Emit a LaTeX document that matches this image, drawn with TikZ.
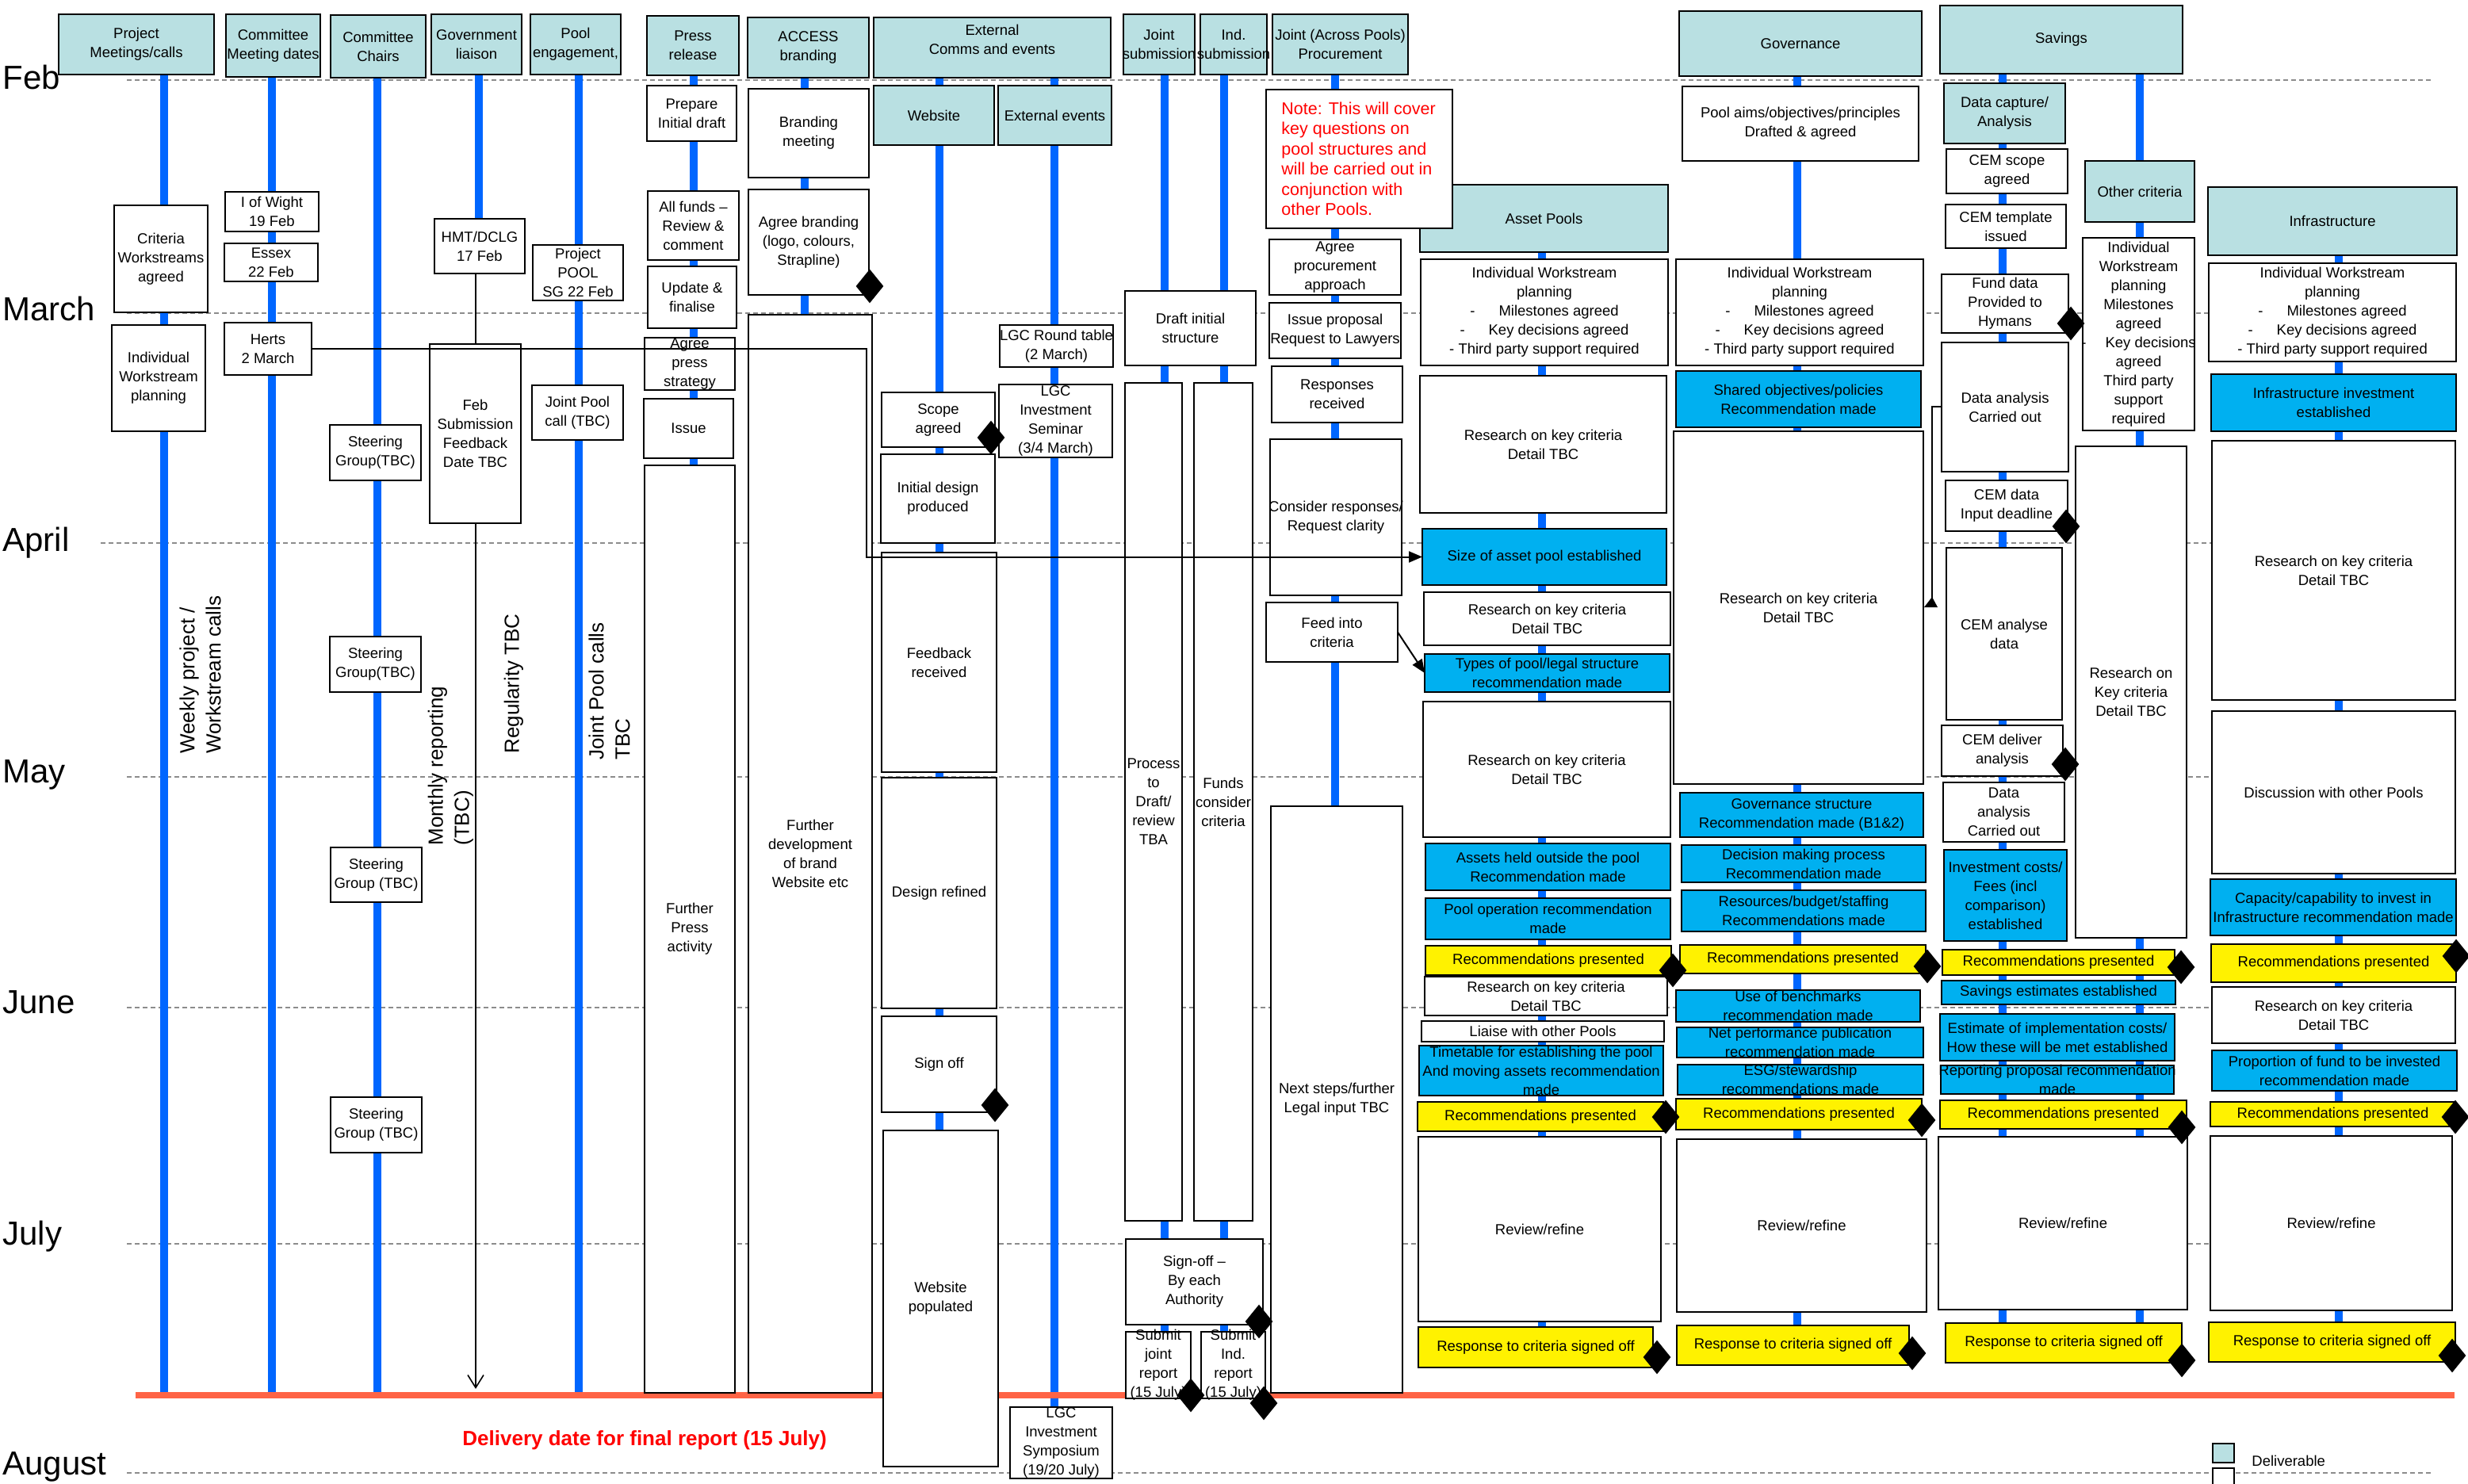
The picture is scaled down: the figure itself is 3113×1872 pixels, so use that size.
\documentclass[tikz,border=0pt]{standalone}
\usepackage{fontspec}
\setmainfont{Liberation Sans}
\usetikzlibrary{shapes.geometric,arrows.meta}
\definecolor{tealhd}{RGB}{185,224,226}
\definecolor{cyanbx}{RGB}{0,176,240}
\definecolor{lanebl}{RGB}{0,102,255}
\definecolor{orangeln}{RGB}{255,100,70}
\definecolor{dashgr}{RGB}{140,140,140}
\newcommand\bx[8][0]{%
  \node[#7, minimum width={(#5-#3)*0.5pt}, minimum height={(#6-#4)*0.5pt}] (#2) at ({(#3+#5)/2},{(#4+#6)/2}) {};
  \node[txt] (#2-t) at ({(#3+#5)/2},{(#4+#6)/2+#1}) {#8};}
\newcommand\iwptext{Individual Workstream\\planning\\-\hspace{15pt}Milestones agreed\\-\hspace{15pt}Key decisions agreed\\- Third party support required}
\newcommand\rkctext{Research on key criteria\\Detail TBC}
\tikzset{
  wbox/.style={draw=black, line width=1pt, fill=white, inner sep=0pt, outer sep=0pt},
  hbox/.style={wbox, fill=tealhd, line width=1.3pt},
  cbox/.style={wbox, fill=cyanbx},
  ybox/.style={wbox, fill=yellow},
  txt/.style={align=center, inner sep=0pt, font=\fontsize{9.25}{12}\selectfont},
  dia/.style={diamond, fill=black, inner sep=0pt, minimum width=17.5pt, minimum height=21.5pt},
  lane/.style={draw=lanebl, line width=4.6pt},
  month/.style={anchor=base west, inner sep=0pt, font=\fontsize{21}{25}\selectfont},
  mline/.style={draw=dashgr, line width=0.8pt, dash pattern=on 3pt off 2pt},
  conn/.style={draw=black, line width=1pt},
  rot/.style={rotate=90, anchor=west, align=left, inner sep=0pt, font=\fontsize{13}{16.5}\selectfont},
  tip/.style={-{Triangle[length=8.5pt,width=7pt]}}
}
\begin{document}
\begin{tikzpicture}[x=0.5pt,y=-0.5pt]
\path[use as bounding box, fill=white] (0,0) rectangle (3113,1872);

% month labels and dashed lines
\node[month] (m-feb) at (3,113) {Feb};
\node[month] (m-mar) at (3,404) {March};
\node[month] (m-apr) at (3,695) {April};
\node[month] (m-may) at (3,987) {May};
\node[month] (m-jun) at (3,1278) {June};
\node[month] (m-jul) at (3,1570) {July};
\node[month] (m-aug) at (3,1860) {August};
\foreach \yy/\xs in {101/160,395/160,685/127,980/160,1271/160,1569/160,1858/160}
  \draw[mline] (\xs,\yy) -- (3069,\yy);

% lanes
\draw[lane] (207,94) -- (207,1760);
\draw[lane] (343,97) -- (343,1763);
\draw[lane] (476,98) -- (476,1760);
\draw[lane] (604,94) -- (604,276);
\draw[lane] (730,94) -- (730,1760);
\draw[lane] (875,95) -- (875,587);
\draw[lane] (1015,98) -- (1015,397);
\draw[lane] (1185,98) -- (1185,1426);
\draw[lane] (1330,98) -- (1330,1775);
\draw[lane] (1469,94) -- (1469,1680);
\draw[lane] (1544,94) -- (1544,1680);
\draw[lane] (1684,94) -- (1684,1017);
\draw[lane] (1945,318) -- (1945,1674);
\draw[lane] (2267,96) -- (2267,1672);
\draw[lane] (2526,93) -- (2526,1669);
\draw[lane] (2699,93) -- (2699,1669);
\draw[lane] (2950,322) -- (2950,1668);

% delivery line
\draw[draw=orangeln, line width=4pt] (171,1760) -- (3096,1760);

% headers
\bx{hd-proj}{74}{18}{270}{94}{hbox}{Project\\Meetings/calls}
\bx{hd-cmd}{285}{18}{404}{97}{hbox}{Committee\\Meeting dates}
\bx{hd-chr}{417}{19}{537}{98}{hbox}{Committee\\Chairs}
\bx{hd-gov}{544}{18}{658}{94}{hbox}{Government\\liaison}
\bx{hd-pool}{669}{18}{783}{94}{hbox}{Pool\\engagement,}
\bx{hd-press}{816}{20}{932}{95}{hbox}{Press\\release}
\bx{hd-acc}{943}{22}{1096}{98}{hbox}{ACCESS\\branding}
\bx[-10]{hd-ext}{1102}{22}{1401}{98}{hbox}{External\\Comms and events}
\bx{hd-js}{1417}{18}{1507}{94}{hbox}{Joint\\submission}
\bx{hd-is}{1514}{18}{1598}{94}{hbox}{Ind.\\submission}
\bx{hd-jp}{1605}{18}{1776}{94}{hbox}{Joint (Across Pools)\\Procurement}
\bx{hd-gvn}{2118}{14}{2424}{96}{hbox}{Governance}
\bx{hd-sav}{2447}{7}{2753}{93}{hbox}{Savings}
\bx{hd-web}{1102}{108}{1254}{183}{hbox}{Website}
\bx{hd-ev}{1259}{108}{1402}{183}{hbox}{External events}
\bx{hd-ap}{1791}{233}{2104}{318}{hbox}{Asset Pools}
\bx{hd-oc}{2630}{203}{2768}{280}{hbox}{Other criteria}
\bx{hd-inf}{2785}{236}{3099}{322}{hbox}{Infrastructure}

% government liaison: box, then arrow (behind the next box)
\bx{hmt}{548}{276}{662}{345}{wbox}{HMT/DCLG\\17 Feb}
\coordinate (govend) at (600,1752);
\draw[draw=black, line width=0.8pt, -{Straight Barb[length=8pt,width=10pt]}] (hmt.south -| govend) -- (govend);
\bx{febsub}{542}{434}{657}{660}{wbox}{Feb\\Submission\\Feedback\\Date TBC}

% columns 1-5
\bx{crit}{144}{259}{262}{394}{wbox}{Criteria\\Workstreams\\agreed}
\bx{iwp1}{141}{410}{259}{544}{wbox}{Individual\\Workstream\\planning}
\bx{wight}{284}{242}{402}{292}{wbox}{I of Wight\\19 Feb}
\bx{essex}{283}{307}{401}{355}{wbox}{Essex\\22 Feb}
\bx{herts}{283}{407}{393}{473}{wbox}{Herts\\2 March}
\bx{sg1}{416}{536}{531}{606}{wbox}{Steering\\Group(TBC)}
\bx{sg2}{416}{803}{531}{873}{wbox}{Steering\\Group(TBC)}
\bx{sg3}{417}{1069}{532}{1138}{wbox}{Steering\\Group (TBC)}
\bx{sg4}{417}{1384}{532}{1454}{wbox}{Steering\\Group (TBC)}
\bx{ppool}{672}{309}{786}{379}{wbox}{Project\\POOL\\SG 22 Feb}
\bx{jpc}{671}{486}{786}{555}{wbox}{Joint Pool\\call (TBC)}

% press
\bx{prep}{816}{108}{929}{178}{wbox}{Prepare\\Initial draft}
\bx{allf}{817}{241}{932}{328}{wbox}{All funds --\\Review \&\\comment}
\bx{upd}{817}{336}{929}{414}{wbox}{Update \&\\finalise}
\bx{aps}{813}{426}{927}{492}{wbox}{Agree\\press\\strategy}
\bx{issue}{812}{503}{925}{578}{wbox}{Issue}
\bx{fpa}{813}{587}{927}{1757}{wbox}{Further\\Press\\activity}

% access branding
\bx{bmeet}{944}{112}{1096}{224}{wbox}{Branding\\meeting}
\bx{abr}{944}{239}{1096}{372}{wbox}{Agree branding\\(logo, colours,\\Strapline)}
\bx{fdev}{944}{397}{1100}{1757}{wbox}{Further\\development\\of brand\\Website etc}

% website
\bx{scope}{1112}{495}{1255}{564}{wbox}{Scope\\agreed}
\bx{idp}{1111}{573}{1255}{685}{wbox}{Initial design\\produced}
\bx{fbr}{1112}{697}{1257}{974}{wbox}{Feedback\\received}
\bx{dref}{1112}{981}{1257}{1272}{wbox}{Design refined}
\bx{soff}{1112}{1282}{1257}{1403}{wbox}{Sign off}
\bx{wpop}{1114}{1426}{1259}{1850}{wbox}{Website\\populated}

% external events
\bx{lgcrt}{1261}{410}{1404}{463}{wbox}{LGC Round table\\(2 March)}
\bx{lgcis}{1260}{485}{1403}{577}{wbox}{LGC\\Investment\\Seminar\\(3/4 March)}
\bx{lgcsym}{1274}{1775}{1403}{1865}{wbox}{LGC\\Investment\\Symposium\\(19/20 July)}

% submissions
\bx{dis}{1419}{367}{1584}{461}{wbox}{Draft initial\\structure}
\bx{proc}{1419}{483}{1491}{1540}{wbox}{Process\\to\\Draft/\\review\\TBA}
\bx{fcc}{1506}{483}{1580}{1540}{wbox}{Funds\\consider\\criteria}
\bx{signoff}{1420}{1563}{1593}{1671}{wbox}{Sign-off --\\By each\\Authority}
\bx{sjr}{1420}{1680}{1502}{1764}{wbox}{Submit\\joint\\report\\(15 July)}
\bx{sir}{1515}{1680}{1596}{1764}{wbox}{Submit\\Ind.\\report\\(15 July)}

% procurement
\bx{note}{1597}{113}{1832}{288}{wbox}{}
\node[anchor=west, align=left, text=red, inner sep=0pt, font=\fontsize{10.75}{12.75}\selectfont] (note-red) at (1616,200.5) {Note: This will cover\\key questions on\\pool structures and\\will be carried out in\\conjunction with\\other Pools.};
\bx{apa}{1601}{302}{1767}{372}{wbox}{Agree\\procurement\\approach}
\bx{ipr}{1601}{382}{1767}{452}{wbox}{Issue proposal\\Request to Lawyers}
\bx{resp}{1604}{462}{1769}{533}{wbox}{Responses\\received}
\bx{crr}{1602}{554}{1768}{751}{wbox}{Consider responses/\\Request clarity}
\bx{fic}{1597}{760}{1763}{835}{wbox}{Feed into\\criteria}
\bx{nsf}{1603}{1017}{1769}{1757}{wbox}{Next steps/further\\Legal input TBC}

% asset pools
\bx{ap-iwp}{1792}{327}{2104}{461}{wbox}{\iwptext}
\bx{ap-r1}{1791}{474}{2102}{647}{wbox}{\rkctext}
\bx{ap-size}{1794}{667}{2102}{738}{cbox}{Size of asset pool established}
\bx{ap-r2}{1796}{747}{2107}{814}{wbox}{\rkctext}
\bx{ap-types}{1797}{825}{2106}{873}{cbox}{Types of pool/legal structure\\recommendation made}
\bx{ap-r3}{1795}{885}{2107}{1056}{wbox}{\rkctext}
\bx{ap-aho}{1798}{1064}{2107}{1123}{cbox}{Assets held outside the pool\\Recommendation made}
\bx{ap-por}{1798}{1133}{2107}{1185}{cbox}{Pool operation recommendation\\made}
\bx{ap-rp1}{1798}{1193}{2108}{1230}{ybox}{Recommendations presented}
\bx{ap-r4}{1797}{1232}{2103}{1281}{wbox}{\rkctext}
\bx{ap-lia}{1793}{1288}{2099}{1314}{wbox}{Liaise with other Pools}
\bx{ap-tt}{1790}{1319}{2098}{1382}{cbox}{Timetable for establishing the pool\\And moving assets recommendation\\made}
\bx{ap-rp2}{1788}{1390}{2098}{1427}{ybox}{Recommendations presented}
\bx{ap-rev}{1789}{1434}{2095}{1667}{wbox}{Review/refine}
\bx{ap-resp}{1789}{1674}{2085}{1725}{ybox}{Response to criteria signed off}

% governance
\bx{gv-aims}{2122}{109}{2420}{203}{wbox}{Pool aims/objectives/principles\\Drafted \& agreed}
\bx{gv-iwp}{2114}{327}{2426}{461}{wbox}{\iwptext}
\bx{gv-shared}{2114}{468}{2423}{539}{cbox}{Shared objectives/policies\\Recommendation made}
\bx{gv-res}{2111}{544}{2426}{989}{wbox}{\rkctext}
\bx{gv-gs}{2119}{1000}{2426}{1056}{cbox}{Governance structure\\Recommendation made (B1\&2)}
\bx{gv-dm}{2121}{1066}{2429}{1113}{cbox}{Decision making process\\Recommendation made}
\bx{gv-rb}{2121}{1123}{2429}{1175}{cbox}{Resources/budget/staffing\\Recommendations made}
\bx{gv-rp1}{2119}{1192}{2429}{1228}{ybox}{Recommendations presented}
\bx{gv-ub}{2114}{1249}{2422}{1289}{cbox}{Use of benchmarks\\recommendation made}
\bx{gv-np}{2115}{1296}{2426}{1334}{cbox}{Net performance publication\\recommendation made}
\bx{gv-esg}{2116}{1343}{2426}{1381}{cbox}{ESG/stewardship\\recommendations made}
\bx{gv-rp2}{2114}{1386}{2424}{1425}{ybox}{Recommendations presented}
\bx{gv-rev}{2115}{1437}{2430}{1655}{wbox}{Review/refine}
\bx{gv-resp}{2115}{1672}{2408}{1722}{ybox}{Response to criteria signed off}

% savings
\bx{sv-dc}{2452}{105}{2605}{181}{hbox}{Data capture/\\Analysis}
\bx{sv-scope}{2455}{188}{2608}{244}{wbox}{CEM scope\\agreed}
\bx{sv-tmpl}{2454}{258}{2606}{313}{wbox}{CEM template\\issued}
\bx{sv-fund}{2449}{346}{2609}{420}{wbox}{Fund data\\Provided to\\Hymans}
\bx{sv-da}{2449}{432}{2609}{595}{wbox}{Data analysis\\Carried out}
\bx{sv-cdi}{2454}{606}{2608}{670}{wbox}{CEM data\\Input deadline}
\bx{sv-cad}{2455}{691}{2601}{908}{wbox}{CEM analyse\\data}
\bx{sv-cda}{2449}{915}{2602}{979}{wbox}{CEM deliver\\analysis}
\bx{sv-da2}{2451}{987}{2604}{1062}{wbox}{Data\\analysis\\Carried out}
\bx{sv-ic}{2452}{1072}{2607}{1187}{cbox}{Investment costs/\\Fees (incl\\comparison)\\established}
\bx{sv-oiwp}{2627}{300}{2768}{543}{wbox}{Individual\\Workstream\\planning\\Milestones\\agreed\\-\hspace{12pt}Key decisions\\agreed\\Third party\\support\\required}
\bx{sv-ores}{2618}{563}{2758}{1183}{wbox}{Research on\\Key criteria\\Detail TBC}
\bx{sv-rp1}{2450}{1198}{2743}{1230}{ybox}{Recommendations presented}
\bx{sv-se}{2449}{1237}{2744}{1267}{cbox}{Savings estimates established}
\bx{sv-eic}{2447}{1279}{2743}{1338}{cbox}{Estimate of implementation costs/\\How these will be met established}
\bx{sv-rep}{2448}{1344}{2742}{1380}{cbox}{Reporting proposal recommendation\\made}
\bx{sv-rp2}{2447}{1388}{2758}{1424}{ybox}{Recommendations presented}
\bx{sv-rev}{2445}{1434}{2759}{1652}{wbox}{Review/refine}
\bx{sv-resp}{2454}{1669}{2752}{1719}{ybox}{Response to criteria signed off}

% infrastructure
\bx{in-iwp}{2786}{332}{3098}{456}{wbox}{\iwptext}
\bx{in-inv}{2789}{472}{3098}{544}{cbox}{Infrastructure investment\\established}
\bx{in-r1}{2790}{556}{3097}{883}{wbox}{\rkctext}
\bx{in-disc}{2790}{897}{3097}{1102}{wbox}{Discussion with other Pools}
\bx{in-cap}{2788}{1109}{3098}{1180}{cbox}{Capacity/capability to invest in\\Infrastructure recommendation made}
\bx{in-rp1}{2789}{1191}{3098}{1239}{ybox}{Recommendations presented}
\bx{in-r2}{2790}{1245}{3097}{1316}{wbox}{\rkctext}
\bx{in-prop}{2790}{1325}{3099}{1376}{cbox}{Proportion of fund to be invested\\recommendation made}
\bx{in-rp2}{2788}{1390}{3097}{1421}{ybox}{Recommendations presented}
\bx{in-rev}{2788}{1433}{3093}{1653}{wbox}{Review/refine}
\bx{in-resp}{2786}{1668}{3097}{1718}{ybox}{Response to criteria signed off}

% milestones (diamonds)
\node[dia] (d-abr) at (1097,361) {};
\node[dia] (d-scope) at (1250,552) {};
\node[dia] (d-soff) at (1255,1394) {};
\node[dia] (d-signoff) at (1588,1667) {};
\node[dia] (d-sjr) at (1502,1760) {};
\node[dia] (d-sir) at (1594,1770) {};
\node[dia] (d-aprp1) at (2110,1224) {};
\node[dia] (d-aprp2) at (2101,1409) {};
\node[dia] (d-apresp) at (2090,1712) {};
\node[dia] (d-gvrp1) at (2431,1219) {};
\node[dia] (d-gvrp2) at (2424,1413) {};
\node[dia] (d-gvresp) at (2412,1707) {};
\node[dia] (d-fund) at (2612,408) {};
\node[dia] (d-cdi) at (2606,664) {};
\node[dia] (d-cda) at (2605,964) {};
\node[dia] (d-svrp1) at (2751,1220) {};
\node[dia] (d-svrp2) at (2752,1422) {};
\node[dia] (d-svresp) at (2752,1716) {};
\node[dia] (d-inrp1) at (3098,1206) {};
\node[dia] (d-inrp2) at (3097,1409) {};
\node[dia] (d-inresp) at (3093,1710) {};

% connectors
\coordinate (hbend) at (1093,440);
\draw[conn, tip] (herts.east) -- (hbend) |- (ap-size.west);
\draw[conn, tip] (fic.east) -- (ap-types.west);
\coordinate (dabend) at (2437,513);
\coordinate (daend) at (2437,762);
\draw[conn] (sv-da.west |- dabend) -- (dabend) -- (daend);
\fill (2427,766) -- (2444,766) -- (2437,753) -- cycle;

% rotated notes
\node[rot] (weekly) at (252.5,951) {Weekly project /\\Workstream calls};
\node[rot] (monthly) at (568.5,1067) {Monthly reporting\\(TBC)};
\node[rot] (regular) at (648,951) {Regularity TBC};
\node[rot] (jpcalls) at (768.5,959) {Joint Pool calls\\TBC};

% delivery date
\node[anchor=west, text=red, inner sep=0pt, font=\bfseries\fontsize{13}{15}\selectfont] (deliv) at (583,1817) {Delivery date for final report (15 July)};

% legend
\node[hbox, minimum width=13.5pt, minimum height=12pt] (leg1) at (2804.5,1833) {};
\node[txt, anchor=west] (leg1-t) at (2840,1843) {Deliverable};
\node[wbox, minimum width=13.5pt, minimum height=14pt] (leg2) at (2804.5,1866) {};
\end{tikzpicture}
\end{document}
